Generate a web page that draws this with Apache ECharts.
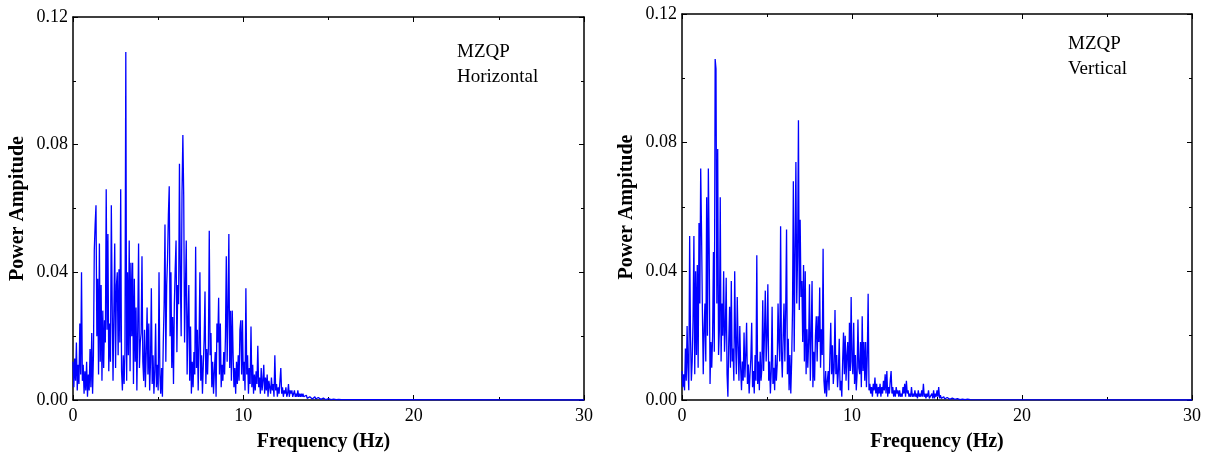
<!DOCTYPE html>
<html>
<head>
<meta charset="utf-8">
<script src="https://cdn.jsdelivr.net/npm/echarts@6/dist/echarts.min.js"></script>
<style>
  html, body { margin: 0; padding: 0; background: #fff; }
  #chart { width: 1214px; height: 459px; }
</style>
</head>
<body>
<div id="chart"></div>
<script>
// spectrum bins, 0.05 Hz apart, amplitudes in units of 1e-3
const binStep = 0.05

// MZQP horizontal, 0 - 15.95 Hz (one row = 1 Hz)
const horizAmp = [
  12, 4, 13, 6, 18, 3, 11, 5, 24, 8, 40, 6, 11, 2, 9, 3, 12, 1, 8, 3,
  16, 4, 21, 2, 14, 47, 55, 61, 20, 38, 8, 49, 12, 36, 6, 28, 10, 25, 18, 66,
  22, 52, 9, 24, 12, 61, 30, 6, 28, 49, 10, 36, 40, 14, 41, 18, 66, 9, 3, 14,
  5, 15, 109, 6, 40, 14, 50, 9, 43, 20, 43, 5, 38, 12, 29, 3, 22, 49, 10, 18,
  21, 45, 12, 6, 22, 4, 15, 29, 8, 24, 3, 12, 35, 5, 14, 2, 9, 24, 4, 11,
  3, 40, 8, 2, 10, 1, 18, 30, 55, 12, 36, 44, 58, 67, 20, 40, 10, 26, 5, 30,
  41, 50, 15, 36, 30, 74, 40, 20, 65, 83, 64, 18, 35, 50, 8, 25, 36, 6, 23, 2,
  12, 4, 15, 8, 48, 10, 22, 3, 18, 40, 6, 14, 2, 11, 19, 34, 5, 16, 8, 17,
  53, 14, 21, 4, 12, 2, 9, 15, 1, 24, 18, 32, 8, 24, 4, 11, 6, 15, 8, 20,
  45, 12, 29, 52, 10, 28, 6, 28, 14, 4, 10, 2, 12, 5, 14, 6, 22, 25, 8, 25,
  6, 12, 3, 35, 8, 14, 2, 10, 5, 23, 4, 11, 2, 8, 3, 9, 5, 17, 4, 7,
  2, 10, 3, 6, 11, 2, 7, 3, 8, 1, 6, 4, 2, 7, 3, 5, 1, 14, 3, 5,
  1, 4, 2, 6, 10, 2, 4, 1, 3, 2, 4, 1, 2, 5, 1, 3, 2, 3, 1, 2,
  3, 1, 2, 1, 3, 1, 2, 1, 2, 1, 2, 1, 1.5, 0.5, 1.5, 0.5, 1, 0.5, 1, 0.5,
  1, 0.3, 0.8, 0.3, 1, 0.3, 0.7, 0.2, 0.8, 0.2, 0.6, 0.2, 0.5, 0.2, 0.6, 0.1, 0.4, 0.1, 0.5, 0.1,
  0.4, 0.1, 0.3, 0.1, 0.3, 0.1, 0.3, 0.1, 0.2, 0.1, 0.2, 0.1, 0.2, 0.1, 0.2, 0.1, 0.1, 0.1, 0.1, 0.1
]

// MZQP vertical, 0 - 16.95 Hz
const vertAmp = [
  9, 4, 8, 3, 16, 6, 23, 10, 3, 51, 20, 6, 12, 25, 51, 8, 40, 14, 42, 10,
  55, 30, 72, 52, 28, 8, 22, 30, 12, 63, 20, 72, 47, 5, 18, 10, 20, 46, 15, 106,
  103, 30, 78, 14, 22, 63, 12, 30, 20, 40, 15, 22, 38, 8, 1, 18, 29, 10, 37, 12,
  16, 6, 40, 18, 8, 32, 17, 6, 23, 10, 3, 12, 6, 21, 7, 14, 24, 5, 11, 2,
  8, 13, 24, 4, 9, 2, 14, 6, 45, 5, 12, 3, 15, 6, 10, 31, 9, 20, 34, 12,
  20, 36, 6, 12, 2, 9, 29, 5, 10, 3, 14, 6, 11, 30, 18, 12, 54, 15, 7, 20,
  30, 12, 28, 53, 8, 19, 3, 14, 2, 12, 28, 68, 15, 46, 74, 30, 45, 87, 28, 56,
  32, 37, 18, 42, 12, 40, 8, 22, 10, 18, 36, 6, 20, 37, 4, 15, 6, 20, 26, 12,
  26, 18, 35, 10, 22, 14, 47, 6, 2, 9, 1, 6, 9, 3, 14, 24, 8, 17, 5, 10,
  28, 8, 14, 4, 9, 19, 3, 6, 1, 12, 21, 8, 20, 6, 14, 18, 3, 24, 9, 32,
  12, 8, 24, 5, 14, 3, 8, 25, 10, 8, 18, 4, 26, 9, 18, 6, 18, 4, 14, 33,
  3, 5, 2, 4, 1, 5, 3, 7, 2, 5, 1, 4, 2, 5, 1, 4, 2, 6, 3, 8,
  2, 9, 1, 4, 2, 6, 9, 2, 4, 1, 3, 1, 4, 2, 3, 1, 3, 1, 2, 1,
  4, 2, 5, 1, 6, 2, 3, 1, 2, 1, 4, 1, 2, 1, 3, 1, 2, 0.5, 3, 1,
  2, 1, 3, 1, 5, 1, 2, 0.5, 2, 1, 3, 0.5, 1, 0.5, 2, 0.5, 3, 0.5, 2, 1,
  3, 1, 4, 0.5, 1.5, 0.5, 1, 0.3, 1, 0.3, 0.8, 0.3, 0.8, 0.2, 0.7, 0.2, 0.6, 0.2, 0.6, 0.2,
  0.5, 0.2, 0.5, 0.2, 0.4, 0.1, 0.4, 0.1, 0.4, 0.1, 0.3, 0.1, 0.3, 0.1, 0.3, 0.1, 0.3, 0.1, 0.2, 0.1
]

// flat remainder of each spectrum up to the axis end
const tailFreq = [30]
const tailAmp = [0]

const xTicks = { min: 0, max: 30, interval: 10 }
const yTicks = { min: 0, max: 0.12, interval: 0.04 }

function toPoints (amp) {
  const pts = amp.map((v, i) => [i * binStep, v / 1000])
  tailFreq.forEach((f, i) => pts.push([f, tailAmp[i]]))
  return pts
}

const serif = 'Liberation Serif, Times New Roman, serif'
const black = '#000'

function xAxisFor (grid, pos) {
  const isMain = pos === 'bottom'
  return {
    type: 'value', gridIndex: grid, position: pos,
    min: xTicks.min, max: xTicks.max, interval: xTicks.interval,
    name: isMain ? 'Frequency (Hz)' : '',
    nameLocation: 'middle', nameGap: 32,
    nameTextStyle: {
      fontFamily: serif, fontWeight: 'bold', fontSize: 20, color: black,
      // left title sits a little left of its grid centre
      padding: grid === 0 ? [0, 10, 0, 0] : 0
    },
    axisLine: { show: true, onZero: false, lineStyle: { color: black, width: 1.5 } },
    axisTick: { show: true, inside: true, length: 5, lineStyle: { color: black } },
    minorTick: { show: true, splitNumber: 2, length: 3, lineStyle: { color: black } },
    axisLabel: { show: isMain, fontFamily: serif, fontSize: 18, color: black, margin: 7 },
    splitLine: { show: false }
  }
}

function yAxisFor (grid, pos) {
  const isMain = pos === 'left'
  return {
    type: 'value', gridIndex: grid, position: pos,
    min: yTicks.min, max: yTicks.max, interval: yTicks.interval,
    name: isMain ? 'Power Ampitude' : '',
    nameLocation: 'middle', nameGap: 45, nameRotate: 90,
    nameTextStyle: { fontFamily: serif, fontWeight: 'bold', fontSize: 20, color: black },
    axisLine: { show: true, onZero: false, lineStyle: { color: black, width: 1.5 } },
    axisTick: { show: true, inside: true, length: 5, lineStyle: { color: black } },
    minorTick: { show: true, splitNumber: 2, length: 3, lineStyle: { color: black } },
    axisLabel: {
      show: isMain, fontFamily: serif, fontSize: 18, color: black, margin: 5,
      formatter: (v) => v.toFixed(2)
    },
    splitLine: { show: false }
  }
}

function note (x, y, text) {
  return {
    type: 'text', left: x, top: y,
    style: { text: text, font: '19px ' + serif, fill: black }
  }
}

const chart = echarts.init(document.getElementById('chart'))
chart.setOption({
  animation: false,
  backgroundColor: '#fff',
  grid: [
    { left: 73, top: 17, width: 511, height: 383 },
    { left: 682, top: 14, width: 510, height: 386 }
  ],
  xAxis: [xAxisFor(0, 'bottom'), xAxisFor(0, 'top'), xAxisFor(1, 'bottom'), xAxisFor(1, 'top')],
  yAxis: [yAxisFor(0, 'left'), yAxisFor(0, 'right'), yAxisFor(1, 'left'), yAxisFor(1, 'right')],
  series: [
    {
      name: 'Horizontal', type: 'line', xAxisIndex: 0, yAxisIndex: 0,
      data: toPoints(horizAmp), symbol: 'none',
      lineStyle: { color: '#0000ff', width: 1.3 }
    },
    {
      name: 'Vertical', type: 'line', xAxisIndex: 2, yAxisIndex: 2,
      data: toPoints(vertAmp), symbol: 'none',
      lineStyle: { color: '#0000ff', width: 1.3 }
    }
  ],
  graphic: [
    note(457, 43, 'MZQP'),
    note(457, 68, 'Horizontal'),
    note(1068, 35, 'MZQP'),
    note(1068, 60, 'Vertical')
  ]
})
</script>
</body>
</html>
